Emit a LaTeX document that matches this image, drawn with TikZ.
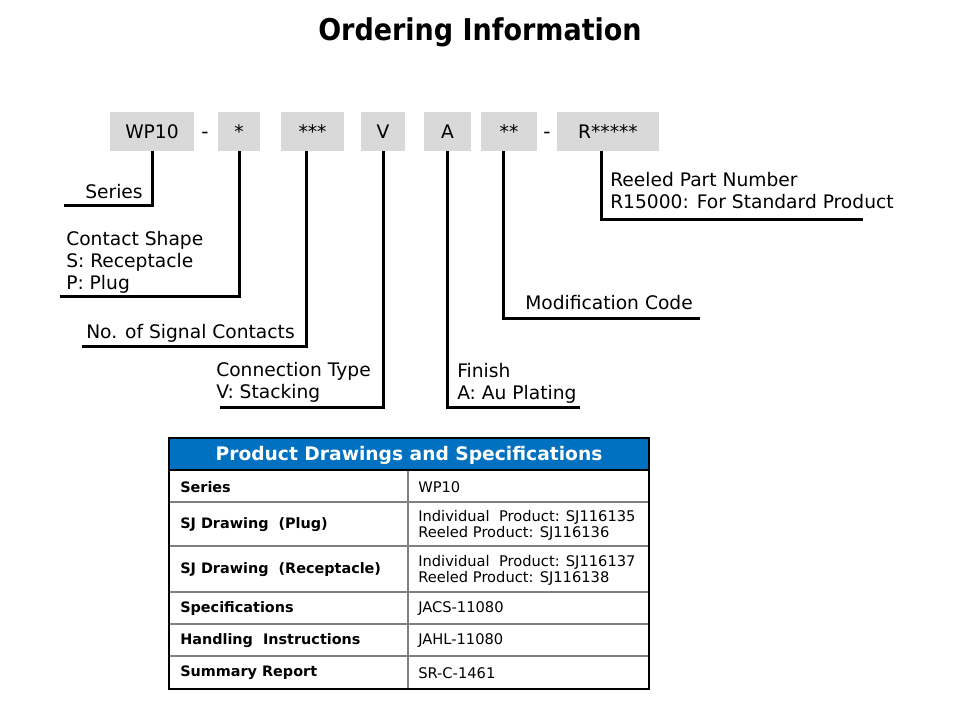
\documentclass[tikz,border=0pt]{standalone}
\usepackage{fontspec}
\setmainfont{DejaVu Sans}
\newfontfamily\titlefont{DejaVu Sans Condensed}
\definecolor{boxgray}{HTML}{D9D9D9}
\definecolor{headblue}{HTML}{0070C0}
\definecolor{rulegray}{HTML}{808080}
\begin{document}
\begin{tikzpicture}[x=0.75pt, y=-0.75pt, every node/.style={inner sep=0pt},
    partbox/.style={fill=boxgray, minimum height=29.25pt, font=\fontsize{14}{16}\selectfont},
    dashmark/.style={font=\fontsize{15}{16}\selectfont},
    leader/.style={line width=2.25pt},
    lbl/.style={anchor=base west, align=left, font=\fontsize{14}{16.5}\selectfont},
    cell/.style={anchor=west, align=left, font=\fontsize{11}{12}\selectfont},
    keycell/.style={anchor=west, font=\fontsize{10.8}{12}\selectfont\bfseries},
    rowline/.style={rulegray, line width=0.9pt}]
    \useasboundingbox (0,0) rectangle (960,720);

    \node[font=\titlefont\bfseries\fontsize{22.5}{26}\selectfont] (title) at (480,32) {Ordering Information};

    % part number boxes
    \node[partbox, minimum width=63pt] (wp) at (152,131.5) {WP10};
    \node[dashmark] (d1) at (205,135) {-};
    \node[partbox, minimum width=31.5pt] (s1) at (239,131.5) {*};
    \node[partbox, minimum width=47.25pt] (s3) at (312.5,131.5) {***};
    \node[partbox, minimum width=33pt] (v) at (383,131.5) {V};
    \node[partbox, minimum width=35.25pt] (a) at (447.5,131.5) {A};
    \node[partbox, minimum width=42pt] (m) at (509,131.5) {**};
    \node[dashmark] (d2) at (547,135) {-};
    \node[partbox, minimum width=76.5pt] (r) at (608,131.5) {R*****};

    % labels (base = last line)
    \node[lbl] (ser) at (85,199) {Series};
    \node[lbl] (cs) at (66,290) {Contact Shape\\S: Receptacle\\P: Plug};
    \node[lbl] (nsc) at (86,339) {No. of Signal Contacts};
    \node[lbl] (ct) at (216,398) {Connection Type\\V: Stacking};
    \node[lbl] (fin) at (457,399) {Finish\\A: Au Plating};
    \node[lbl] (mod) at (525,310) {Modification Code};
    \node[lbl] (rpn) at (610,209) {Reeled Part Number\\R15000: For Standard Product};

    % leaders
    \coordinate (serE) at (64,206);
    \coordinate (csE) at (60,297);
    \coordinate (nscE) at (82,346);
    \coordinate (ctE) at (220,407);
    \coordinate (finE) at (580,407);
    \coordinate (modE) at (700,318);
    \coordinate (rpnE) at (863,220);
    \draw[leader] (wp.south) |- (serE);
    \draw[leader] (s1.south) |- (csE);
    \draw[leader] ([xshift=-4.5pt]s3.south) |- (nscE);
    \draw[leader] (v.south) |- (ctE);
    \draw[leader] (a.south) |- (finE);
    \draw[leader] ([xshift=-4.5pt]m.south) |- (modE);
    \draw[leader] ([xshift=-5.25pt]r.south) |- (rpnE);

    % table
    \fill[headblue] (169,438) rectangle (649,470);
    \node[text=white, font=\fontsize{14}{16}\selectfont\bfseries] (head) at (409,455) {Product Drawings and Specifications};
    \foreach \y in {502,546,592,624,656} { \draw[rowline] (169,\y) -- (649,\y); }
    \draw[rowline] (408,470) -- (408,689);
    \draw[line width=0.9pt] (169,470) -- (649,470);
    \draw[line width=1.5pt] (169,438) rectangle (649,689);
    \foreach \y/\k/\v in {487/Series/WP10,
        525/{SJ Drawing\ \ (Plug)}/{Individual\ \ Product: SJ116135\\Reeled Product: SJ116136},
        570/{SJ Drawing\ \ (Receptacle)}/{Individual\ \ Product: SJ116137\\Reeled Product: SJ116138},
        609/Specifications/JACS-11080,
        641/{Handling\ \ Instructions}/JAHL-11080,
        673/Summary Report/SR-C-1461} {
        \node[keycell] (k\y) at (180,\y) {\k};
        \node[cell] (v\y) at (418,\y) {\v};
    }
\end{tikzpicture}
\end{document}
